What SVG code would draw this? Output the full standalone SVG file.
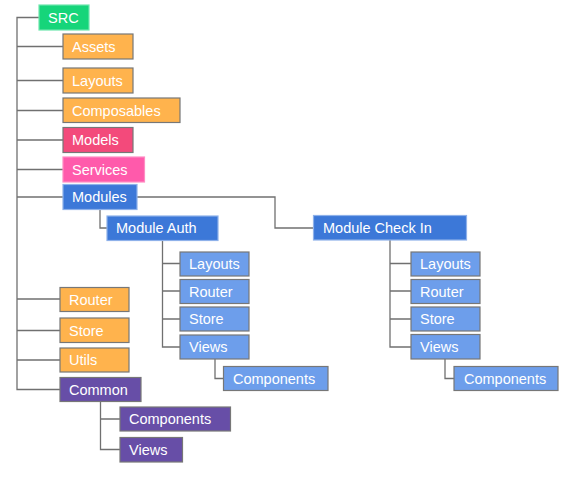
<svg xmlns="http://www.w3.org/2000/svg" width="574" height="480" viewBox="0 0 574 480">
<style>
text{font-family:"Liberation Sans",Arial,sans-serif;font-size:14.5px;fill:#fff;dominant-baseline:central}
rect{stroke-width:1.2}
.o{fill:#ffb34d;stroke:#777}
.m{fill:#f34a7b;stroke:#777}
.s{fill:#ff5aab;stroke:#ff8cc4}
.g{fill:#16d57a;stroke:#6fe6ad}
.b{fill:#3c78d8;stroke:#8eb1ea}
.lb{fill:#6d9eeb;stroke:#777}
.p{fill:#674ea7;stroke:#777}
.c path{fill:none;stroke:#707070;stroke-width:1.3}
</style>
<rect width="574" height="480" fill="#fff"/>
<g class="c" id="connectors">
<path d="M39,17.5H17V389.5H60"/>
<path d="M17,46.5H63M17,80.5H63M17,110.5H63M17,140H63M17,169.5H63M17,197H63"/>
<path d="M17,299H60M17,330.5H60M17,360H60"/>
<path d="M137,197H275V228H313"/>
<path d="M100,209V228H107"/>
<path d="M162.5,240V347H180M162.5,263.5H180M162.5,291H180M162.5,319H180"/>
<path d="M215,359V378.5H223"/>
<path d="M390,240V347H411M390,263.5H411M390,291H411M390,319H411"/>
<path d="M445,359V378.5H454"/>
<path d="M100.5,402V449.5H120M100.5,419H120"/>
</g>
<g id="src"><rect class="g" x="39" y="5" width="50" height="25"/><text x="48" y="17.5">SRC</text></g>
<g id="assets"><rect class="o" x="63" y="34" width="70" height="25"/><text x="72" y="46.5">Assets</text></g>
<g id="layouts"><rect class="o" x="63" y="68" width="70" height="25"/><text x="72" y="80.5">Layouts</text></g>
<g id="composables"><rect class="o" x="63" y="98" width="117" height="24.5"/><text x="72" y="110.5">Composables</text></g>
<g id="models"><rect class="m" x="63" y="127.5" width="70" height="25"/><text x="72" y="140">Models</text></g>
<g id="services"><rect class="s" x="63" y="157" width="81.5" height="25"/><text x="72" y="169.5">Services</text></g>
<g id="modules"><rect class="b" x="63" y="184.5" width="74" height="25"/><text x="72" y="197">Modules</text></g>
<g id="module-auth"><rect class="b" x="107" y="216" width="111" height="24.5"/><text x="116" y="228">Module Auth</text></g>
<g id="auth-layouts"><rect class="lb" x="180" y="252" width="69" height="24"/><text x="189" y="264">Layouts</text></g>
<g id="auth-router"><rect class="lb" x="180" y="279.5" width="69" height="24"/><text x="189" y="291.5">Router</text></g>
<g id="auth-store"><rect class="lb" x="180" y="307" width="69" height="24"/><text x="189" y="319">Store</text></g>
<g id="auth-views"><rect class="lb" x="180" y="335" width="69" height="24"/><text x="189" y="347">Views</text></g>
<g id="auth-components"><rect class="lb" x="223.5" y="366.5" width="104.5" height="24"/><text x="233" y="378.5">Components</text></g>
<g id="module-checkin"><rect class="b" x="313.5" y="215.5" width="153" height="24.5"/><text x="323" y="227.5">Module Check In</text></g>
<g id="ci-layouts"><rect class="lb" x="411" y="252" width="69" height="24"/><text x="420" y="264">Layouts</text></g>
<g id="ci-router"><rect class="lb" x="411" y="279.5" width="69" height="24"/><text x="420" y="291.5">Router</text></g>
<g id="ci-store"><rect class="lb" x="411" y="307" width="69" height="24"/><text x="420" y="319">Store</text></g>
<g id="ci-views"><rect class="lb" x="411" y="334.5" width="69" height="24.5"/><text x="420" y="346.5">Views</text></g>
<g id="ci-components"><rect class="lb" x="454" y="366.5" width="104" height="24"/><text x="464" y="378.5">Components</text></g>
<g id="router"><rect class="o" x="60" y="287.5" width="69" height="24"/><text x="69" y="299.5">Router</text></g>
<g id="store"><rect class="o" x="60" y="318" width="69" height="24.5"/><text x="69" y="330.5">Store</text></g>
<g id="utils"><rect class="o" x="60" y="348" width="69" height="24"/><text x="69" y="360">Utils</text></g>
<g id="common"><rect class="p" x="60" y="377.5" width="81" height="24"/><text x="69" y="389.5">Common</text></g>
<g id="common-components"><rect class="p" x="120" y="407" width="110.5" height="24"/><text x="129" y="419">Components</text></g>
<g id="common-views"><rect class="p" x="120" y="437.5" width="62.5" height="24.5"/><text x="129" y="449.5">Views</text></g>
</svg>
